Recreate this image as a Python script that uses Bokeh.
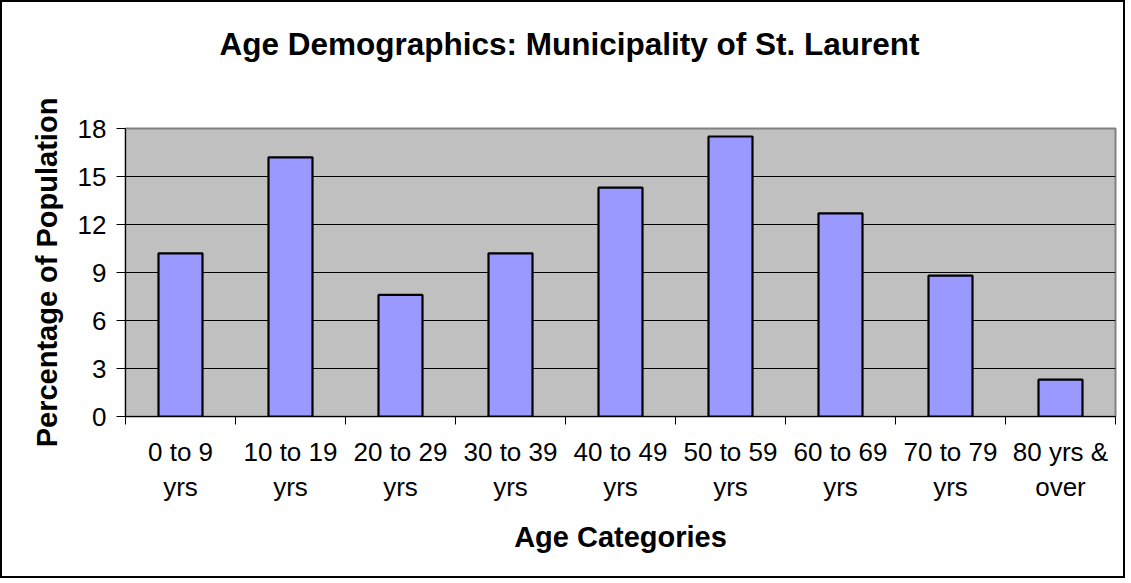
from bokeh.plotting import figure
from bokeh.models import Range1d, FixedTicker, LinearAxis, Title
from bokeh.embed import file_html
from bokeh.resources import INLINE

# ---- data ----
title_text = "Age Demographics: Municipality of St. Laurent"
categories = ["0 to 9 yrs", "10 to 19 yrs", "20 to 29 yrs", "30 to 39 yrs", "40 to 49 yrs",
              "50 to 59 yrs", "60 to 69 yrs", "70 to 79 yrs", "80 yrs & over"]
label_line1 = ["0 to 9", "10 to 19", "20 to 29", "30 to 39", "40 to 49",
               "50 to 59", "60 to 69", "70 to 79", "80 yrs &"]
label_line2 = ["yrs", "yrs", "yrs", "yrs", "yrs", "yrs", "yrs", "yrs", "over"]
percent = [10.2, 16.2, 7.6, 10.2, 14.3, 17.5, 12.7, 8.8, 2.3]
y_ticks = [0, 3, 6, 9, 12, 15, 18]

FONT = "Liberation Sans"
n = len(categories)
centers = [i + 0.5 for i in range(n)]
bounds = [float(i) for i in range(n + 1)]

p = figure(output_backend="svg", toolbar_location=None,
           frame_width=990, frame_height=288,
           min_border_left=123, min_border_right=8,
           min_border_top=126, min_border_bottom=160,
           x_range=Range1d(0, n), y_range=Range1d(0, 18),
           x_axis_location=None, y_axis_location=None,
           background_fill_color="#C0C0C0", border_fill_color="white")
p.styles = {"border": "2px solid black"}
p.outline_line_color = "#808080"
p.outline_line_width = 2

# title
t = Title(text=title_text, align="left", offset=94,
          text_font=FONT, text_font_size="31.5px", text_font_style="bold",
          text_color="black", standoff=0,
          padding=dict(left=0, right=0, top=0, bottom=67))
p.add_layout(t, "above")

# bars
p.vbar(x=centers, top=percent, width=0.4, fill_color="#9999FF", line_color="black", line_width=2.2)

# y axis
yax = LinearAxis(ticker=FixedTicker(ticks=y_ticks), axis_label="Percentage of Population")
yax.axis_label_text_font = FONT
yax.axis_label_text_font_size = "29px"
yax.axis_label_text_font_style = "bold"
yax.axis_label_text_color = "black"
yax.axis_label_standoff = 12
yax.major_label_text_font = FONT
yax.major_label_text_font_size = "26px"
yax.major_label_text_color = "black"
yax.major_label_standoff = 10
yax.major_tick_in = 0
yax.major_tick_out = 9
yax.major_tick_line_color = "black"
yax.minor_tick_line_color = None
yax.axis_line_color = "black"
p.add_layout(yax, "left")

# x axis (line 1 labels + boundary ticks)
xa = LinearAxis(ticker=FixedTicker(ticks=centers, minor_ticks=bounds))
xa.major_label_overrides = {c: l for c, l in zip(centers, label_line1)}
xa.major_label_text_font = FONT
xa.major_label_text_font_size = "26px"
xa.major_label_text_color = "black"
xa.major_tick_line_color = None
xa.major_tick_in = 0
xa.major_tick_out = 8
xa.minor_tick_in = 0
xa.minor_tick_out = 8
xa.minor_tick_line_color = "black"
xa.major_label_standoff = 12
xa.axis_line_color = "black"
p.add_layout(xa, "below")

# x axis (line 2 labels + axis title)
xb = LinearAxis(ticker=FixedTicker(ticks=centers), axis_label="Age Categories")
xb.major_label_overrides = {c: l for c, l in zip(centers, label_line2)}
xb.major_label_text_font = FONT
xb.major_label_text_font_size = "26px"
xb.major_label_text_color = "black"
xb.major_tick_line_color = None
xb.major_tick_in = 0
xb.major_tick_out = 0
xb.minor_tick_line_color = None
xb.axis_line_color = None
xb.major_label_standoff = 2
xb.axis_label_text_font = FONT
xb.axis_label_text_font_size = "29px"
xb.axis_label_text_font_style = "bold"
xb.axis_label_text_color = "black"
xb.axis_label_standoff = 16
p.add_layout(xb, "below")

# grid
p.xgrid.visible = False
p.ygrid.ticker = FixedTicker(ticks=y_ticks[1:-1])
p.ygrid.grid_line_color = "black"
p.ygrid.grid_line_width = 1

open("out.html", "w").write(file_html(p, INLINE))
